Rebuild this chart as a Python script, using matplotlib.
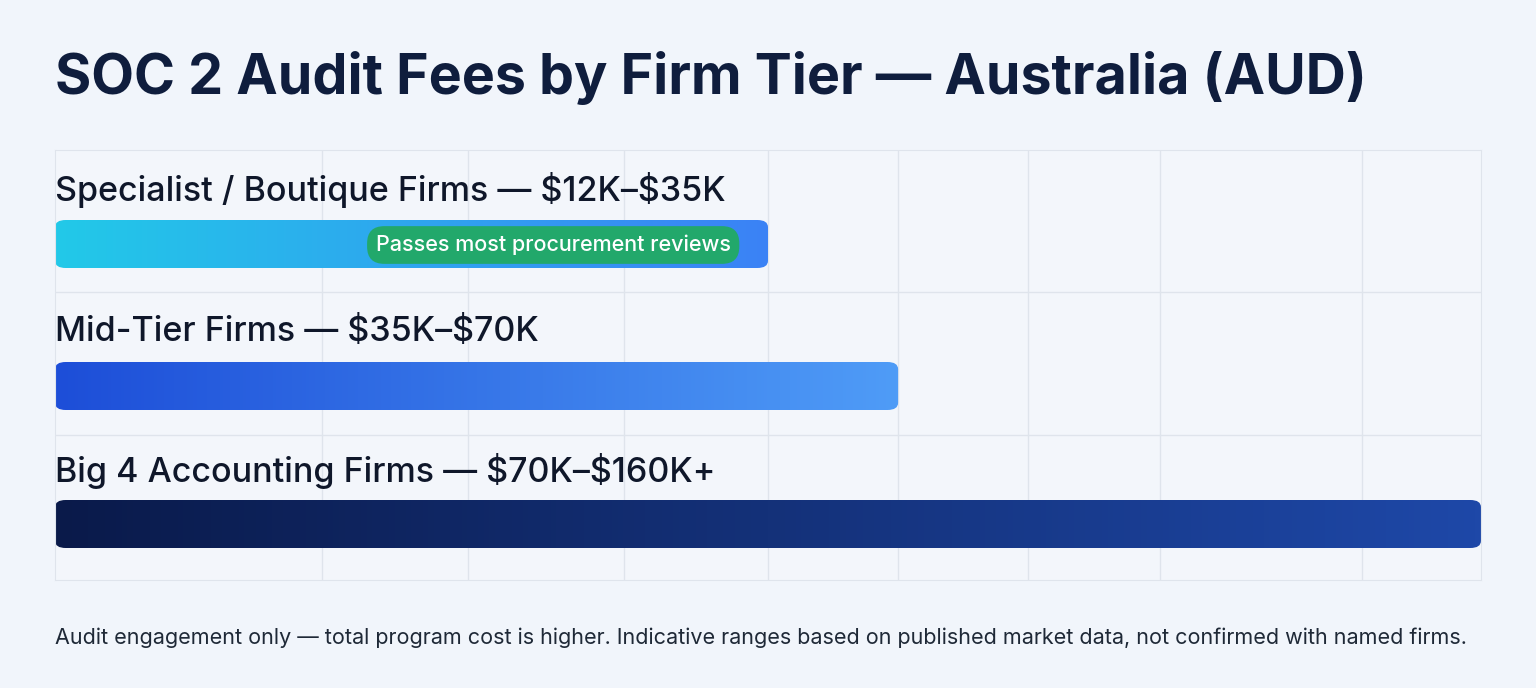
import matplotlib
matplotlib.use("Agg")
import matplotlib.pyplot as plt
import numpy as np
from matplotlib.patches import FancyBboxPatch
from matplotlib.colors import LinearSegmentedColormap

categories = ["Specialist / Boutique Firms", "Mid-Tier Firms", "Big 4 Accounting Firms"]
ranges = ["$12K\u2013$35K", "$35K\u2013$70K", "$70K\u2013$160K+"]
bar_extent = [80.0, 94.6, 160.0]  # scale 0-160
grad_colors = [("#22c9e8", "#3b82f6"), ("#1d4ed8", "#4f9cf7"), ("#0a1a4a", "#1e48a8")]
grid_x = [30, 46.3, 63.8, 80.0, 94.6, 109.2, 124.0, 146.7]

plt.rcParams['font.family'] = ['Inter', 'DejaVu Sans']
plt.rcParams['text.parse_math'] = False
W, H = 1536, 688
fig = plt.figure(figsize=(W/100, H/100), dpi=100)
fig.patch.set_facecolor("#f1f5fb")
fig.text(55/W, 1-78/H, "SOC 2 Audit Fees by Firm Tier \u2014 Australia (AUD)", fontsize=40,
         fontweight="bold", color="#0f1d3d", va="center")
fig.text(55/W, 1-638/H, "Audit engagement only \u2014 total program cost is higher. Indicative ranges based on published market data, not confirmed with named firms.",
         fontsize=15.5, color="#1f2937", va="center")

ax = fig.add_axes([55/W, 1-580/H, 1426/W, 430/H])
ax.set_xlim(0, 160); ax.set_ylim(430, 0)
ax.set_facecolor("#f3f6fb")
for s in ax.spines.values():
    s.set_color("#dfe4ec")
ax.set_xticks([]); ax.set_yticks([])
for gx in grid_x:
    ax.axvline(gx, color="#dfe4ec", lw=1, zorder=0)
for gy in [142, 285]:
    ax.axhline(gy, color="#dfe4ec", lw=1, zorder=0)

label_y = [40, 182, 321]
bar_y = [70, 212, 350]
bh = 48
for i, (c, r, e) in enumerate(zip(categories, ranges, bar_extent)):
    ax.text(0, label_y[i], f"{c} \u2014 {r}", fontsize=24.5, color="#0f172a", va="center", fontweight="medium")
    cmap = LinearSegmentedColormap.from_list("g", grad_colors[i])
    grad = np.linspace(0, 1, 256).reshape(1, -1)
    im = ax.imshow(grad, cmap=cmap, extent=[0, e, bar_y[i]+bh, bar_y[i]], aspect="auto", zorder=2)
    patch = FancyBboxPatch((0, bar_y[i]), e, bh, boxstyle="round,pad=0,rounding_size=1.2",
                           mutation_aspect=6, transform=ax.transData, facecolor="none", edgecolor="none")
    ax.add_patch(patch)
    im.set_clip_path(patch)

ax.text(55.9, 95, "Passes most procurement reviews", fontsize=15.5, color="white", ha="center", va="center",
        fontweight="medium", zorder=5,
        bbox=dict(boxstyle="round,pad=0.4,rounding_size=0.8", fc="#22a86b", ec="none"))
ax.set_xlim(0, 160); ax.set_ylim(430, 0)
fig.savefig("out.png", dpi=100, facecolor=fig.get_facecolor())
